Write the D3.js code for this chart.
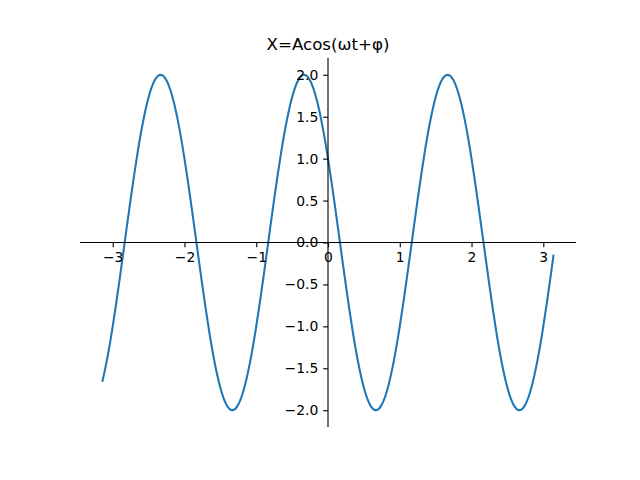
<!DOCTYPE html>
<html><head><meta charset="utf-8">
<script src="https://cdn.jsdelivr.net/npm/d3@7"></script>
<style>body{margin:0;background:#fff}svg{display:block}</style>
</head><body>
<script>
const tValues = [-3.1416,
 -3.10,-3.05,-3.00,-2.95,-2.90,-2.85,-2.80,-2.75,-2.70,-2.65,-2.60,-2.55,-2.50,-2.45,-2.40,-2.35,-2.30,-2.25,-2.20,-2.15,-2.10,-2.05,
 -2.00,-1.95,-1.90,-1.85,-1.80,-1.75,-1.70,-1.65,-1.60,-1.55,-1.50,-1.45,-1.40,-1.35,-1.30,-1.25,-1.20,-1.15,-1.10,-1.05,
 -1.00,-0.95,-0.90,-0.85,-0.80,-0.75,-0.70,-0.65,-0.60,-0.55,-0.50,-0.45,-0.40,-0.35,-0.30,-0.25,-0.20,-0.15,-0.10,-0.05,
 0.00,0.05,0.10,0.15,0.20,0.25,0.30,0.35,0.40,0.45,0.50,0.55,0.60,0.65,0.70,0.75,0.80,0.85,0.90,0.95,
 1.00,1.05,1.10,1.15,1.20,1.25,1.30,1.35,1.40,1.45,1.50,1.55,1.60,1.65,1.70,1.75,1.80,1.85,1.90,1.95,
 2.00,2.05,2.10,2.15,2.20,2.25,2.30,2.35,2.40,2.45,2.50,2.55,2.60,2.65,2.70,2.75,2.80,2.85,2.90,2.95,3.00,3.05,3.10,
 3.1416];
const xValues = [-1.648,
 -1.486,-1.259,-1.000,-0.717,-0.416,-0.105,0.209,0.518,0.813,1.089,1.338,1.554,1.732,1.867,1.956,1.997,1.989,1.932,1.827,1.677,1.486,1.259,
 1.000,0.717,0.416,0.105,-0.209,-0.518,-0.813,-1.089,-1.338,-1.554,-1.732,-1.867,-1.956,-1.997,-1.989,-1.932,-1.827,-1.677,-1.486,-1.259,
 -1.000,-0.717,-0.416,-0.105,0.209,0.518,0.813,1.089,1.338,1.554,1.732,1.867,1.956,1.997,1.989,1.932,1.827,1.677,1.486,1.259,
 1.000,0.717,0.416,0.105,-0.209,-0.518,-0.813,-1.089,-1.338,-1.554,-1.732,-1.867,-1.956,-1.997,-1.989,-1.932,-1.827,-1.677,-1.486,-1.259,
 -1.000,-0.717,-0.416,-0.105,0.209,0.518,0.813,1.089,1.338,1.554,1.732,1.867,1.956,1.997,1.989,1.932,1.827,1.677,1.486,1.259,
 1.000,0.717,0.416,0.105,-0.209,-0.518,-0.813,-1.089,-1.338,-1.554,-1.732,-1.867,-1.956,-1.997,-1.989,-1.932,-1.827,-1.677,-1.486,-1.259,-1.000,-0.717,-0.416,
 -0.157];
const xTicks = [-3,-2,-1,0,1,2,3];
const yTicks = [-2.0,-1.5,-1.0,-0.5,0.0,0.5,1.0,1.5,2.0];
const title = "X=Acos(ωt+φ)";

const W=640,H=480, L=80,R=576,T=58,B=427;
const svg=d3.select("body").append("svg").attr("width",W).attr("height",H);
const x=d3.scaleLinear().domain([-3.4558,3.4558]).range([L,R]);
const y=d3.scaleLinear().domain([-2.2,2.2]).range([B,T]);
const data=tValues.map((t,i)=>[t,xValues[i]]);
const font="DejaVu Sans";
const fmtMinus=s=>s.replace("-","\u2212");

svg.append("path").datum(data)
 .attr("d",d3.line().x(d=>x(d[0])).y(d=>y(d[1])).curve(d3.curveCatmullRom.alpha(0.5)))
 .attr("fill","none").attr("stroke","#1f77b4").attr("stroke-width",2.08)
 .attr("stroke-linecap","square").attr("stroke-linejoin","round");

const xAxis=svg.append("g").attr("transform",`translate(0,${y(0)})`)
 .call(d3.axisBottom(x).tickValues(xTicks).tickSize(4.86).tickPadding(4.9).tickFormat(d=>fmtMinus(String(d))));
const yAxis=svg.append("g").attr("transform",`translate(${x(0)},0)`)
 .call(d3.axisLeft(y).tickValues(yTicks).tickSize(4.86).tickPadding(4.9).tickFormat(d=>fmtMinus(d.toFixed(1))));
[xAxis,yAxis].forEach(g=>{
 g.select(".domain").remove();
 g.selectAll("line").attr("stroke","#000").attr("stroke-width",1.11);
 g.selectAll("text").attr("font-family",font).attr("font-size",13.9).attr("fill","#000");
});
svg.append("line").attr("x1",L).attr("x2",R).attr("y1",y(0)).attr("y2",y(0)).attr("stroke","#000").attr("stroke-width",1.11);
svg.append("line").attr("x1",x(0)).attr("x2",x(0)).attr("y1",T).attr("y2",B).attr("stroke","#000").attr("stroke-width",1.11);

svg.append("text").attr("x",(L+R)/2).attr("y",T-8.5).attr("text-anchor","middle")
 .attr("font-family",font).attr("font-size",16.67).attr("fill","#000").text(title);
</script>
</body></html>
